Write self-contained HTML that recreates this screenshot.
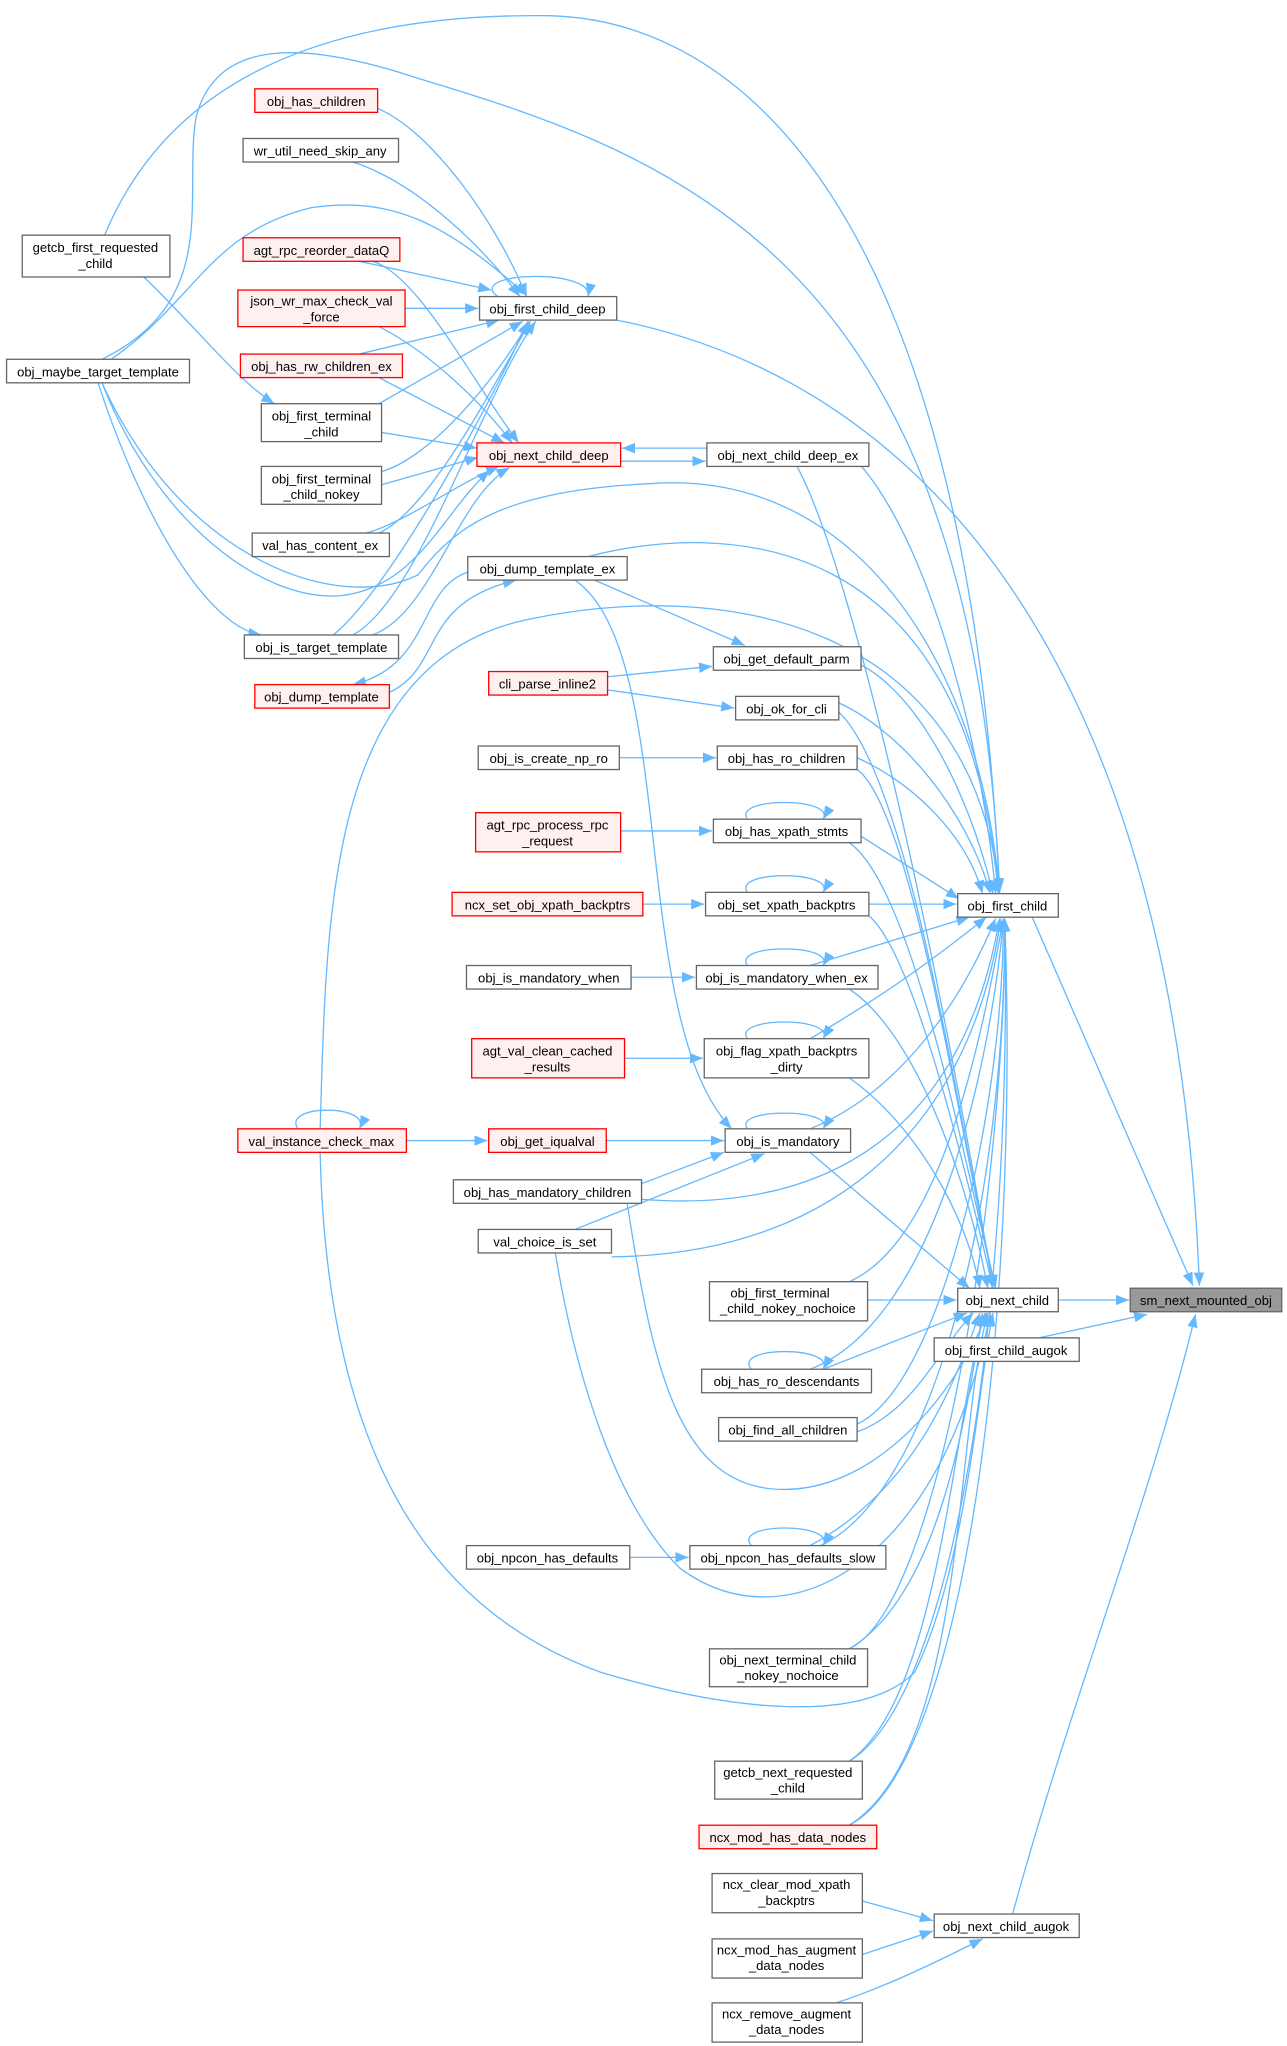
<!DOCTYPE html>
<html><head><meta charset="utf-8"><style>
html,body{margin:0;padding:0;background:#fff;}
svg{display:block}
text{font-family:"Liberation Sans",Arial,sans-serif;font-size:10px;fill:#000;text-anchor:middle}
.n{fill:#fff;stroke:#666;stroke-width:1}
.r{fill:#fff0f0;stroke:#f00;stroke-width:1}
.e{fill:none;stroke:#63b8ff;stroke-width:1;marker-end:url(#a)}
</style></head><body>
<svg width="1287" height="2046" viewBox="0 0 985 1566" xmlns="http://www.w3.org/2000/svg">
<defs><marker id="a" markerUnits="userSpaceOnUse" markerWidth="11" markerHeight="8" refX="10" refY="4" orient="auto"><path d="M0,0 L10,4 L0,8 z" fill="#63b8ff"/></marker></defs>
<g>
<path class="e" d="M80,180 C130,60 250,10 420,12 C560,15 740,150 765,682"/>
<path class="e" d="M78,275 C170,230 140,150 150,90 C165,30 230,30 320,60 C520,120 745,200 765,682"/>
<path class="e" d="M85,275 C150,230 160,178 238,159 C300,150 340,170 403,226"/>
<path class="e" d="M78,293 C120,400 200,460 260,456 C320,450 340,390 375,360"/>
<path class="e" d="M78,293 C140,430 260,470 320,440 C350,400 390,375 500,370 C650,360 750,500 765,684"/>
<path class="e" d="M75,293 C110,400 160,480 200,486"/>
<path class="e" d="M110,212 C150,250 180,290 210,309"/>
<path class="e" d="M289,83 C330,100 380,170 403,227"/>
<path class="e" d="M270,124 C320,140 370,190 398,227"/>
<path class="e" d="M275,200 L376,222"/>
<path class="e" d="M285,200 C320,210 360,290 397,339"/>
<path class="e" d="M310,236 L366,236"/>
<path class="e" d="M290,250 C330,270 370,310 392,339"/>
<path class="e" d="M275,271 L382,245"/>
<path class="e" d="M290,289 L386,339"/>
<path class="e" d="M290,309 L400,246"/>
<path class="e" d="M292,331 L365,343"/>
<path class="e" d="M292,361 C330,350 380,290 405,246"/>
<path class="e" d="M292,371 L366,350"/>
<path class="e" d="M290,408 C330,390 380,290 406,246"/>
<path class="e" d="M280,408 C310,400 350,370 382,357"/>
<path class="e" d="M255,486 C300,450 380,300 404,246"/>
<path class="e" d="M270,486 C320,460 370,300 410,246"/>
<path class="e" d="M285,486 C330,470 350,380 390,358"/>
<path class="e" d="M381,227 C355,208 455,205 450,227"/>
<path class="e" d="M541,343 L476,343"/>
<path class="e" d="M475,353 L540,353"/>
<path class="e" d="M472,245 C700,290 900,500 918,984"/>
<path class="e" d="M358,438 C320,450 330,510 270,524"/>
<path class="e" d="M298,530 C340,510 320,462 395,444"/>
<path class="e" d="M455,444 L570,494"/>
<path class="e" d="M440,444 C520,500 480,780 560,864"/>
<path class="e" d="M245,864 C250,700 250,510 400,475 C560,440 745,480 765,684"/>
<path class="e" d="M245,882 C250,1100 320,1230 460,1280 C560,1310 660,1320 700,1280 C740,1200 750,1050 760,1005"/>
<path class="e" d="M228,864 C215,845 285,845 275,864"/>
<path class="e" d="M311,873 L373,873"/>
<path class="e" d="M464,873 L554,873"/>
<path class="e" d="M491,906 L554,882"/>
<path class="e" d="M440,941 L585,883"/>
<path class="e" d="M572,864 C560,848 640,848 630,864"/>
<path class="e" d="M465,518 L545,510"/>
<path class="e" d="M465,528 L562,542"/>
<path class="e" d="M474,580 L548,580"/>
<path class="e" d="M475,636 L545,636"/>
<path class="e" d="M492,692 L539,692"/>
<path class="e" d="M483,748 L532,748"/>
<path class="e" d="M478,810 L538,810"/>
<path class="e" d="M482,1192 L527,1192"/>
<path class="e" d="M572,627 C560,610 640,610 630,627"/>
<path class="e" d="M572,683 C560,666 640,666 630,683"/>
<path class="e" d="M572,739 C560,722 640,722 630,739"/>
<path class="e" d="M572,795 C560,778 640,778 630,795"/>
<path class="e" d="M575,1048 C560,1030 640,1030 630,1048"/>
<path class="e" d="M575,1183 C560,1165 640,1165 630,1183"/>
<path class="e" d="M640,339 C700,380 750,550 762,684"/>
<path class="e" d="M450,426 C550,400 740,400 764,684"/>
<path class="e" d="M659,509 C700,530 740,600 760,684"/>
<path class="e" d="M642,538 C690,560 740,620 758,684"/>
<path class="e" d="M656,580 C700,600 740,640 752,684"/>
<path class="e" d="M659,640 L734,688"/>
<path class="e" d="M665,692 L732,692"/>
<path class="e" d="M620,739 L742,702"/>
<path class="e" d="M620,795 C680,760 720,730 755,702"/>
<path class="e" d="M620,864 C680,840 730,780 762,703"/>
<path class="e" d="M491,918 C650,930 740,850 765,703"/>
<path class="e" d="M468,962 C650,960 745,850 766,703"/>
<path class="e" d="M650,981 C720,950 750,800 768,703"/>
<path class="e" d="M620,1048 C720,1010 760,800 768,703"/>
<path class="e" d="M656,1090 C720,1060 768,850 768,703"/>
<path class="e" d="M628,1183 C720,1140 770,900 769,703"/>
<path class="e" d="M650,1262 C720,1230 770,900 769,703"/>
<path class="e" d="M650,1348 C730,1300 775,1000 769,703"/>
<path class="e" d="M650,1397 C740,1350 780,1000 769,703"/>
<path class="e" d="M610,357 C660,450 730,800 760,986"/>
<path class="e" d="M642,545 C700,600 740,900 762,986"/>
<path class="e" d="M656,589 C700,620 740,900 762,986"/>
<path class="e" d="M650,645 C700,680 740,900 762,986"/>
<path class="e" d="M665,701 C700,730 740,900 760,986"/>
<path class="e" d="M650,757 C700,790 740,900 756,986"/>
<path class="e" d="M650,825 C700,860 740,930 750,986"/>
<path class="e" d="M620,882 L742,986"/>
<path class="e" d="M480,921 C500,1050 520,1140 600,1140 C680,1140 740,1050 755,1005"/>
<path class="e" d="M425,959 C440,1050 470,1150 520,1200 C600,1260 720,1200 758,1005"/>
<path class="e" d="M664,995 L732,995"/>
<path class="e" d="M630,1048 L740,1005"/>
<path class="e" d="M656,1096 C700,1080 720,1030 745,1005"/>
<path class="e" d="M620,1183 C700,1140 730,1060 750,1005"/>
<path class="e" d="M650,1262 C720,1220 740,1080 752,1005"/>
<path class="e" d="M650,1348 C720,1300 730,1080 754,1005"/>
<path class="e" d="M650,1397 C740,1340 730,1100 756,1005"/>
<path class="e" d="M810,995 L864,995"/>
<path class="e" d="M790,702 L913,984"/>
<path class="e" d="M795,1024 L878,1006"/>
<path class="e" d="M775,1465 C820,1300 880,1150 915,1006"/>
<path class="e" d="M660,1455 L714,1470"/>
<path class="e" d="M660,1496 L714,1478"/>
<path class="e" d="M640,1533 C680,1520 720,1500 752,1484"/>
</g>
<g>
<rect class="n" x="17" y="180" width="113" height="32"/><text x="73" y="193">getcb_first_requested</text><text x="73" y="205">_child</text>
<rect class="n" x="5" y="275" width="140" height="18"/><text x="75" y="288">obj_maybe_target_template</text>
<rect class="r" x="195" y="68" width="94" height="18"/><text x="242" y="81">obj_has_children</text>
<rect class="n" x="186" y="106" width="119" height="18"/><text x="245" y="119">wr_util_need_skip_any</text>
<rect class="r" x="186" y="182" width="120" height="18"/><text x="246" y="195">agt_rpc_reorder_dataQ</text>
<rect class="r" x="182" y="222" width="128" height="28"/><text x="246" y="234">json_wr_max_check_val</text><text x="246" y="246">_force</text>
<rect class="r" x="184" y="271" width="124" height="18"/><text x="246" y="284">obj_has_rw_children_ex</text>
<rect class="n" x="200" y="309" width="92" height="29"/><text x="246" y="322">obj_first_terminal</text><text x="246" y="334">_child</text>
<rect class="n" x="200" y="357" width="92" height="29"/><text x="246" y="370">obj_first_terminal</text><text x="246" y="382">_child_nokey</text>
<rect class="n" x="193" y="408" width="105" height="18"/><text x="245" y="421">val_has_content_ex</text>
<rect class="n" x="187" y="486" width="118" height="18"/><text x="246" y="499">obj_is_target_template</text>
<rect class="r" x="195" y="524" width="103" height="18"/><text x="246" y="537">obj_dump_template</text>
<rect class="r" x="182" y="864" width="129" height="18"/><text x="246" y="877">val_instance_check_max</text>
<rect class="n" x="367" y="227" width="105" height="18"/><text x="419" y="240">obj_first_child_deep</text>
<rect class="r" x="365" y="339" width="110" height="18"/><text x="420" y="352">obj_next_child_deep</text>
<rect class="n" x="358" y="426" width="122" height="18"/><text x="419" y="439">obj_dump_template_ex</text>
<rect class="r" x="374" y="514" width="91" height="18"/><text x="419" y="527">cli_parse_inline2</text>
<rect class="n" x="366" y="571" width="108" height="18"/><text x="420" y="584">obj_is_create_np_ro</text>
<rect class="r" x="364" y="622" width="111" height="30"/><text x="419" y="635">agt_rpc_process_rpc</text><text x="419" y="647">_request</text>
<rect class="r" x="346" y="683" width="146" height="18"/><text x="419" y="696">ncx_set_obj_xpath_backptrs</text>
<rect class="n" x="357" y="739" width="126" height="18"/><text x="420" y="752">obj_is_mandatory_when</text>
<rect class="r" x="361" y="795" width="117" height="30"/><text x="419" y="808">agt_val_clean_cached</text><text x="419" y="820">_results</text>
<rect class="r" x="374" y="864" width="90" height="18"/><text x="419" y="877">obj_get_iqualval</text>
<rect class="n" x="347" y="903" width="144" height="18"/><text x="419" y="916">obj_has_mandatory_children</text>
<rect class="n" x="366" y="941" width="102" height="18"/><text x="417" y="954">val_choice_is_set</text>
<rect class="n" x="357" y="1183" width="125" height="18"/><text x="419" y="1196">obj_npcon_has_defaults</text>
<rect class="n" x="541" y="339" width="124" height="18"/><text x="603" y="352">obj_next_child_deep_ex</text>
<rect class="n" x="546" y="495" width="113" height="18"/><text x="602" y="508">obj_get_default_parm</text>
<rect class="n" x="563" y="533" width="79" height="18"/><text x="602" y="546">obj_ok_for_cli</text>
<rect class="n" x="549" y="571" width="107" height="18"/><text x="602" y="584">obj_has_ro_children</text>
<rect class="n" x="546" y="627" width="113" height="18"/><text x="602" y="640">obj_has_xpath_stmts</text>
<rect class="n" x="540" y="683" width="125" height="18"/><text x="602" y="696">obj_set_xpath_backptrs</text>
<rect class="n" x="533" y="739" width="139" height="18"/><text x="602" y="752">obj_is_mandatory_when_ex</text>
<rect class="n" x="539" y="795" width="126" height="30"/><text x="602" y="808">obj_flag_xpath_backptrs</text><text x="602" y="820">_dirty</text>
<rect class="n" x="555" y="864" width="96" height="18"/><text x="603" y="877">obj_is_mandatory</text>
<rect class="n" x="543" y="981" width="121" height="30"/><text x="597" y="993">obj_first_terminal</text><text x="603" y="1005">_child_nokey_nochoice</text>
<rect class="n" x="537" y="1048" width="130" height="18"/><text x="602" y="1061">obj_has_ro_descendants</text>
<rect class="n" x="550" y="1085" width="106" height="18"/><text x="603" y="1098">obj_find_all_children</text>
<rect class="n" x="528" y="1183" width="150" height="18"/><text x="603" y="1196">obj_npcon_has_defaults_slow</text>
<rect class="n" x="543" y="1262" width="121" height="29"/><text x="603" y="1274">obj_next_terminal_child</text><text x="603" y="1286">_nokey_nochoice</text>
<rect class="n" x="547" y="1348" width="113" height="29"/><text x="603" y="1360">getcb_next_requested</text><text x="603" y="1372">_child</text>
<rect class="r" x="535" y="1397" width="136" height="18"/><text x="603" y="1410">ncx_mod_has_data_nodes</text>
<rect class="n" x="545" y="1434" width="115" height="30"/><text x="602" y="1446">ncx_clear_mod_xpath</text><text x="602" y="1458">_backptrs</text>
<rect class="n" x="545" y="1484" width="115" height="30"/><text x="602" y="1496">ncx_mod_has_augment</text><text x="602" y="1508">_data_nodes</text>
<rect class="n" x="545" y="1533" width="115" height="30"/><text x="602" y="1545">ncx_remove_augment</text><text x="602" y="1557">_data_nodes</text>
<rect class="n" x="733" y="684" width="77" height="18"/><text x="771" y="697">obj_first_child</text>
<rect class="n" x="733" y="986" width="77" height="18"/><text x="771" y="999">obj_next_child</text>
<rect class="n" x="715" y="1024" width="111" height="18"/><text x="770" y="1037">obj_first_child_augok</text>
<rect class="n" x="715" y="1465" width="111" height="18"/><text x="770" y="1478">obj_next_child_augok</text>
<rect x="865" y="986" width="116" height="18" fill="#999" stroke="#666"/><text x="923" y="999">sm_next_mounted_obj</text>
</g>
</svg>
</body></html>
